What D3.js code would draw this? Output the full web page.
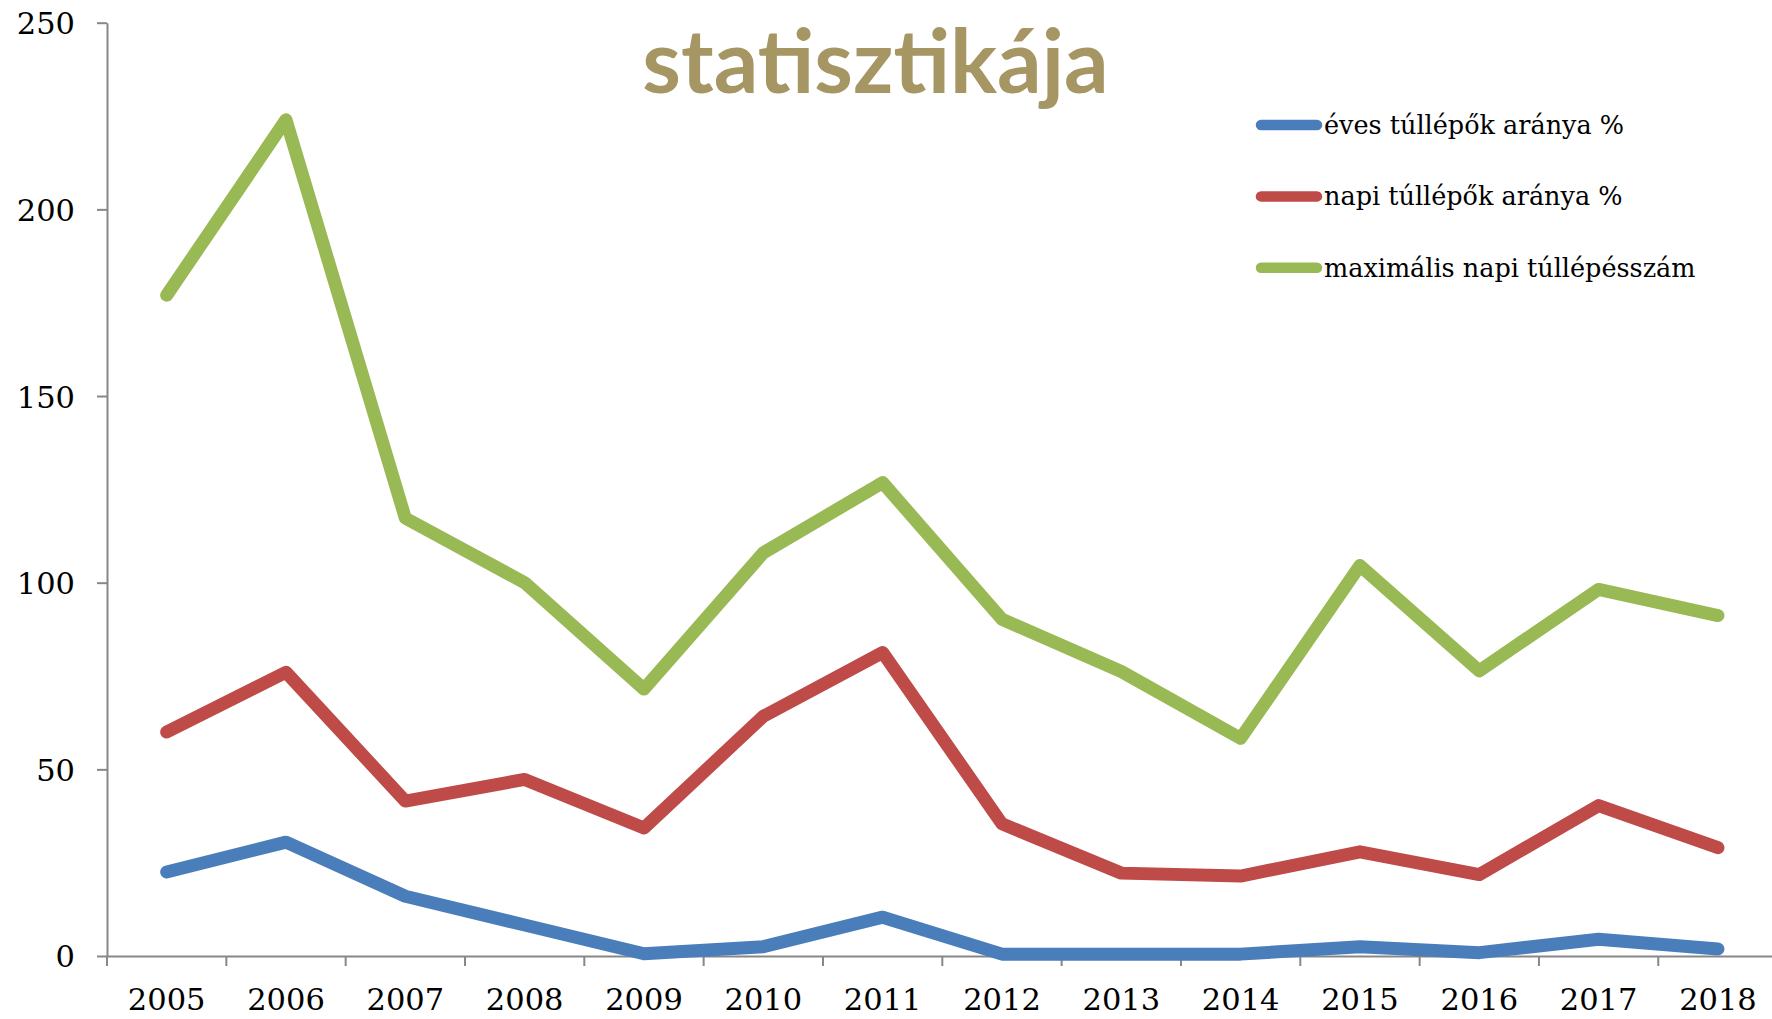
<!DOCTYPE html>
<html>
<head>
<meta charset="utf-8">
<script src="https://cdn.jsdelivr.net/npm/d3@7"></script>
<style>
  body { margin: 0; background: #fff; }
  .axis path, .axis line { stroke: #878787; stroke-width: 2; }
  .axis text { font-family: "DejaVu Serif", Georgia, serif; font-size: 30.5px; fill: #000; }
  .legend text { font-family: "DejaVu Serif", Georgia, serif; font-size: 25.5px; fill: #000; }
</style>
</head>
<body>
<div id="chart"></div>
<script>
const years = ['2005','2006','2007','2008','2009','2010','2011','2012','2013','2014','2015','2016','2017','2018'];
const evesTullepok = [22.5, 30.5, 16, 8.3, 0.6, 2.5, 10.4, 0.5, 0.5, 0.5, 2.5, 0.9, 4.5, 1.9];
const napiTullepok = [60, 76, 41.5, 47.3, 34.3, 64.2, 81.3, 35.4, 22.2, 21.4, 27.9, 21.8, 40.3, 29];
const maxNapi = [177, 224, 117.3, 100, 71.5, 108, 126.8, 90.2, 76.2, 58.3, 104.6, 76.4, 98.2, 91.2];
const yTicks = [0, 50, 100, 150, 200, 250];
const seriesNames = ['éves túllépők aránya %', 'napi túllépők aránya %', 'maximális napi túllépésszám'];
const seriesColors = ['#4A7EBB', '#BE4B48', '#98B954'];
const title = 'statisztikája';

const width = 1772;
const height = 1019;
const plotLeft = 107;
const plotBottom = 956;
const plotTop = 22.7;
const bandW = 119.33;

const series = [evesTullepok, napiTullepok, maxNapi];

const svg = d3.select('#chart').append('svg')
  .attr('width', width)
  .attr('height', height);

const xScale = d3.scaleBand()
  .domain(years)
  .range([plotLeft, plotLeft + bandW * years.length]);

const yScale = d3.scaleLinear()
  .domain([0, 250])
  .range([plotBottom, plotTop]);

// axes
const xAxis = d3.axisBottom(xScale).tickSize(0).tickPadding(42);
const gx = svg.append('g')
  .attr('class', 'axis')
  .attr('transform', `translate(0, ${plotBottom})`)
  .call(xAxis);
gx.selectAll('.tick text').attr('dy', 0).attr('y', 54);
// ticks between categories
gx.selectAll('.sep')
  .data(d3.range(years.length + 1))
  .enter().append('line')
  .attr('class', 'sep')
  .attr('x1', i => plotLeft + i * xScale.step())
  .attr('x2', i => plotLeft + i * xScale.step())
  .attr('y1', 0)
  .attr('y2', 10);

const yAxis = d3.axisLeft(yScale).tickValues(yTicks).tickSize(10).tickSizeOuter(0).tickPadding(22);
const gy = svg.append('g')
  .attr('class', 'axis')
  .attr('transform', `translate(${plotLeft}, 0)`)
  .call(yAxis);
gy.selectAll('.tick text').attr('dy', '0.36em');

// lines
const line = d3.line()
  .x((d, i) => xScale(years[i]) + xScale.bandwidth() / 2)
  .y(d => yScale(d));

svg.selectAll('.series')
  .data(series)
  .enter().append('path')
  .attr('class', 'series')
  .attr('d', d => line(d))
  .attr('fill', 'none')
  .attr('stroke', (d, i) => seriesColors[i])
  .attr('stroke-width', 13)
  .attr('stroke-linecap', 'round')
  .attr('stroke-linejoin', 'round');

// title
svg.append('text')
  .attr('x', 875.5)
  .attr('y', 92.7)
  .attr('text-anchor', 'middle')
  .style('font-family', 'Lato, "Open Sans", sans-serif')
  .style('font-weight', 'bold')
  .style('font-size', '88px')
  .style('fill', '#A69664')
  .text(title);

// legend
const legend = svg.append('g').attr('class', 'legend');
const lg = legend.selectAll('g')
  .data(seriesNames)
  .enter().append('g')
  .attr('transform', (d, i) => `translate(1256, ${125 + i * 71.4})`);
lg.append('line')
  .attr('x1', 5).attr('x2', 61)
  .attr('y1', 0).attr('y2', 0)
  .attr('stroke', (d, i) => seriesColors[i])
  .attr('stroke-width', 10.5)
  .attr('stroke-linecap', 'round');
lg.append('text')
  .attr('x', 68)
  .attr('y', 9)
  .text(d => d);
</script>
</body>
</html>
